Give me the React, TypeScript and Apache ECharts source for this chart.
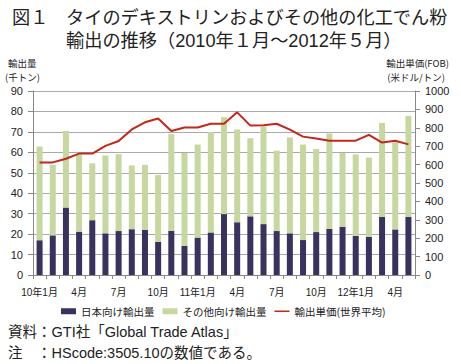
import React, { useEffect, useRef } from "react";
import * as echarts from "echarts";

const months = [
  "10年1月", "2月", "3月", "4月", "5月", "6月", "7月", "8月", "9月", "10月", "11月", "12月",
  "11年1月", "2月", "3月", "4月", "5月", "6月", "7月", "8月", "9月", "10月", "11月", "12月",
  "12年1月", "2月", "3月", "4月", "5月",
];
const japanVol = [17.0, 19.4, 33.0, 21.2, 26.8, 20.4, 21.5, 22.4, 22.0, 16.2, 21.6, 14.2, 18.3, 20.8, 29.8, 25.8, 28.7, 24.9, 21.5, 20.4, 17.1, 21.0, 22.5, 23.6, 19.1, 18.6, 28.4, 22.3, 28.4];
const otherVol = [45.8, 34.5, 37.4, 37.8, 27.8, 38.1, 37.6, 31.2, 31.9, 32.7, 47.3, 45.5, 45.5, 49.2, 47.4, 45.4, 38.2, 47.7, 39.3, 46.9, 46.7, 40.6, 46.7, 36.1, 39.9, 38.8, 46.0, 42.6, 49.4];
const unitPrice = [612, 612, 632, 660, 660, 702, 728, 791, 830, 851, 783, 802, 802, 822, 822, 884, 812, 814, 822, 790, 752, 742, 730, 730, 730, 762, 720, 730, 710];
const leftTicks = { min: 0, max: 90, interval: 10 };
const rightTicks = { min: 0, max: 1000, interval: 100 };
const seriesNames = ["日本向け輸出量", "その他向け輸出量", "輸出単価(世界平均)"];

const FONT = "'Liberation Sans', 'Noto Sans CJK JP', sans-serif";
const JFONT = "'Noto Sans CJK JP', sans-serif";

export default function App() {
  const ref = useRef<HTMLDivElement>(null);
  useEffect(() => {
    if (!ref.current) return;
    const chart = echarts.init(ref.current, undefined, { renderer: "svg" });
    const txt = (text: string, x: number, y: number, size: number, align = "left", family = FONT) => ({
      type: "text",
      x,
      y,
      style: { text, fontSize: size, fontFamily: family, fill: "#222", align, verticalAlign: "middle", lineHeight: size },
    });
    chart.setOption({
      animation: false,
      backgroundColor: "#fff",
      textStyle: { fontFamily: FONT },
      graphic: [
        txt("図１", 12, 18, 18.2),
        txt("タイのデキストリンおよびその他の化工でん粉", 66, 18, 18.2),
        txt("輸出の推移（2010年１月～2012年５月）", 66, 41, 18.2),
        txt("輸出量", 8, 63, 9.5, "left", JFONT),
        txt("(千トン)", 5, 77, 9.5, "left", JFONT),
        txt("輸出単価(FOB)", 449, 63, 9.5, "right", JFONT),
        txt("(米ドル/トン)", 445, 77, 9.5, "right", JFONT),
        txt("資料：GTI社「Global Trade Atlas」", 8, 332, 14.5),
        txt("注　：HScode:3505.10の数値である。", 8, 353, 14.5),
      ],
      grid: { left: 33, right: 46, top: 91, bottom: 89 },
      legend: {
        left: 56,
        top: 301,
        itemWidth: 15,
        itemHeight: 6,
        itemGap: 8,
        textStyle: { fontSize: 10.5, color: "#222", fontFamily: JFONT },
        data: [
          { name: seriesNames[0], icon: "rect" },
          { name: seriesNames[1], icon: "rect" },
          { name: seriesNames[2], icon: "path://M0,0h20v2h-20z" },
        ],
      },
      xAxis: {
        type: "category",
        data: months,
        boundaryGap: true,
        axisLine: { lineStyle: { color: "#888" } },
        axisTick: { show: true, length: 4, alignWithLabel: false, interval: 0, lineStyle: { color: "#888" } },
        axisLabel: { interval: 2, fontSize: 10, color: "#222", margin: 12 },
      },
      yAxis: [
        {
          type: "value",
          ...leftTicks,
          axisLine: { show: true, lineStyle: { color: "#888" } },
          axisTick: { show: true, length: 5, lineStyle: { color: "#888" } },
          axisLabel: { fontSize: 11, color: "#222", margin: 10 },
          splitLine: { lineStyle: { color: "#aaa" } },
        },
        {
          type: "value",
          ...rightTicks,
          position: "right",
          axisLine: { show: true, lineStyle: { color: "#888" } },
          axisTick: { show: true, length: 5, lineStyle: { color: "#888" } },
          axisLabel: { fontSize: 11, color: "#222", margin: 10, formatter: (v: number) => String(v) },
          splitLine: { show: false },
        },
      ],
      series: [
        {
          name: seriesNames[0],
          type: "bar",
          stack: "vol",
          data: japanVol,
          barWidth: 6,
          itemStyle: { color: "#39315e" },
        },
        {
          name: seriesNames[1],
          type: "bar",
          stack: "vol",
          data: otherVol,
          barWidth: 6,
          itemStyle: { color: "#c6d7a0" },
        },
        {
          name: seriesNames[2],
          type: "line",
          yAxisIndex: 1,
          data: unitPrice,
          symbol: "none",
          lineStyle: { color: "#c4261b", width: 2 },
          itemStyle: { color: "#c4261b" },
        },
      ],
    });
    return () => chart.dispose();
  }, []);
  return <div ref={ref} style={{ position: "fixed", left: 0, top: 0, width: 461, height: 364 }} />;
}
